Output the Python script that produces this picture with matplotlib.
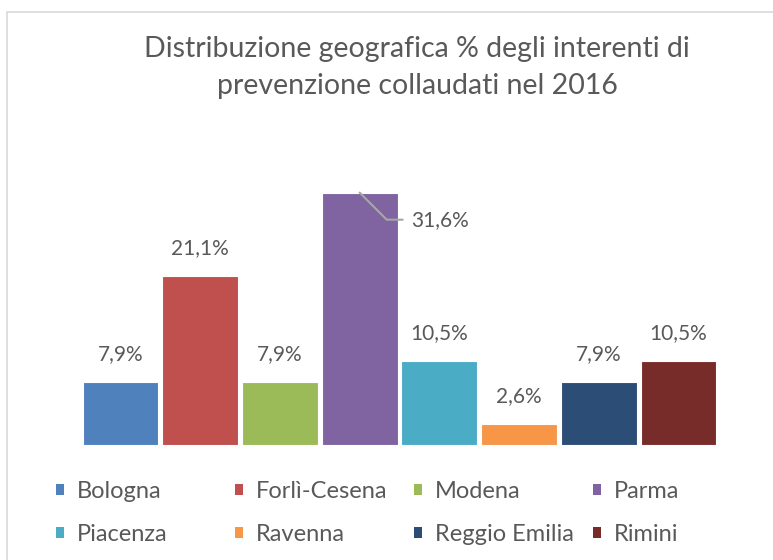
import matplotlib
matplotlib.use("Agg")
import matplotlib.pyplot as plt
from matplotlib.patches import Rectangle

plt.rcParams['font.family'] = ['Lato', 'DejaVu Sans']

categories = ["Bologna", "Forlì-Cesena", "Modena", "Parma",
              "Piacenza", "Ravenna", "Reggio Emilia", "Rimini"]
values = [7.9, 21.1, 7.9, 31.6, 10.5, 2.6, 7.9, 10.5]
labels = ["7,9%", "21,1%", "7,9%", "31,6%", "10,5%", "2,6%", "7,9%", "10,5%"]
colors = ["#4F81BD", "#C0504D", "#9BBB59", "#8064A2",
          "#4BACC6", "#F79646", "#2C4D75", "#772C2A"]
title = "Distribuzione geografica % degli interenti di\nprevenzione collaudati nel 2016"

W, H = 773, 560
fig = plt.figure(figsize=(W / 100, H / 100), dpi=100)
txt = "#595959"

# chart border
fig.patches.append(Rectangle((7 / W, -0.1), 1.2, 1.1 - 12 / H, transform=fig.transFigure,
                             fill=False, edgecolor="#D9D9D9", linewidth=1.2))

left, right = 80.6, 718.4
base, top = 444.5, 165.5
ax = fig.add_axes([left / W, (H - base) / H, (right - left) / W, (base - top) / H])
ax.set_xlim(-0.5, 7.5)
ax.set_ylim(0, 35)
ax.axis("off")

xs = list(range(len(values)))
bars = ax.bar(xs, values, width=0.95, color=colors, edgecolor="white", linewidth=0.8)
for i, b in enumerate(bars):
    b.set_label(categories[i])

for i, (x, v, lab) in enumerate(zip(xs, values, labels)):
    if categories[i] == "Parma":
        ax.annotate(lab, xy=(x, v), xytext=(37, -19.5), textcoords="offset points",
                    ha="left", va="center", fontsize=15, color=txt,
                    arrowprops=dict(arrowstyle="-", color="#A6A6A6", lw=1.5,
                                    connectionstyle="angle,angleA=0,angleB=-45",
                                    shrinkA=4, shrinkB=0, relpos=(0, 0.5)))
    else:
        ax.annotate(lab, xy=(x, v), xytext=(0, 20), textcoords="offset points",
                    ha="center", va="center", fontsize=15, color=txt)

fig.text(417 / W, 1 - 67.5 / H, title, ha="center", va="center", fontsize=20.5,
         color=txt, linespacing=1.5)

# legend: 4 equal-width columns, 2 rows (row-major order)
ncol = 4
col_x = [56, 235, 414, 593]
for c in range(ncol):
    hs = [bars[c], bars[c + ncol]]
    leg = fig.legend(handles=hs, labels=[categories[c], categories[c + ncol]],
                     loc="upper left", bbox_to_anchor=(col_x[c] / W, 1 - 481 / H),
                     frameon=False, fontsize=17, handlelength=0.34, handleheight=0.34,
                     handletextpad=0.55, labelspacing=0.95, borderpad=0, borderaxespad=0)
    for t in leg.get_texts():
        t.set_color(txt)
    for p in leg.get_patches():
        p.set_edgecolor("none")

fig.savefig("out.png", dpi=100)
